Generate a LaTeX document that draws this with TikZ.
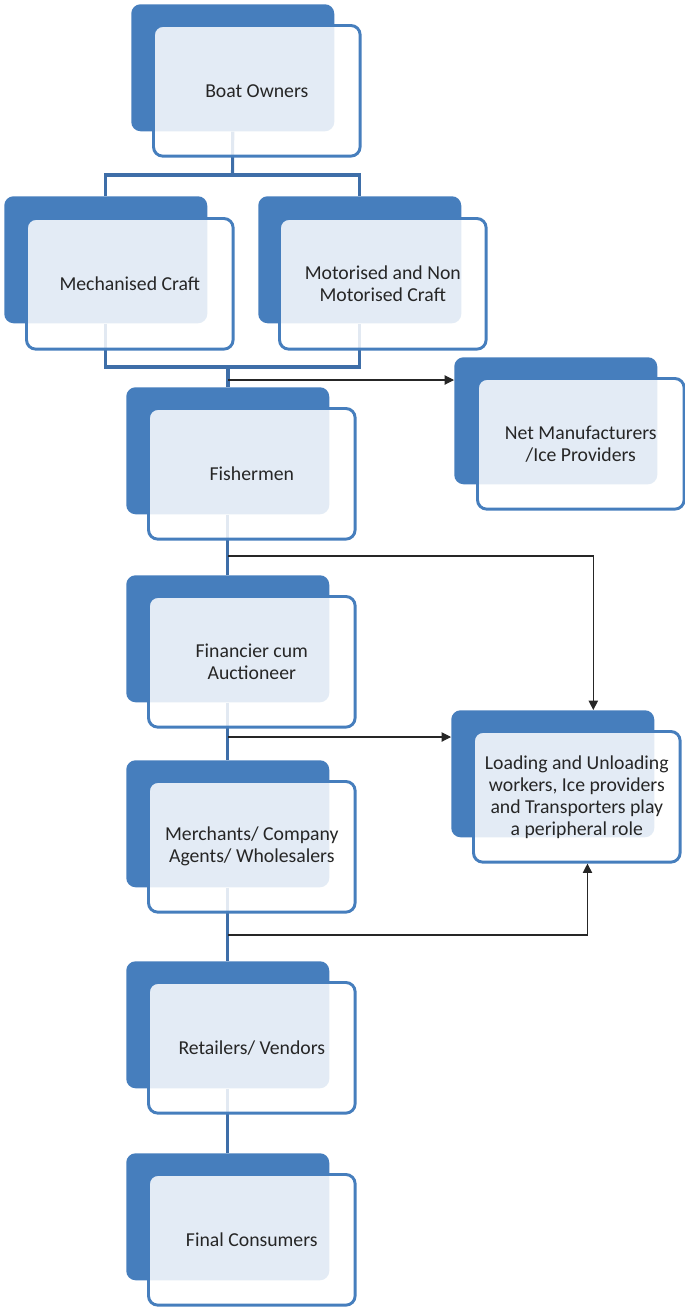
\documentclass[tikz,border=0pt]{standalone}
\usepackage{fontspec}
\setmainfont{Carlito}
\usetikzlibrary{arrows.meta,backgrounds}

\definecolor{boxblue}{RGB}{70,126,189}
\definecolor{lineblue}{RGB}{62,110,168}
\definecolor{inkgray}{RGB}{38,38,38}

\tikzset{
	backbox/.style={fill=boxblue, rounded corners=7pt, minimum width=152.25pt, minimum height=95.25pt, anchor=north west, inner sep=0pt},
	frontbox/.style={draw=boxblue, line width=2.2pt, fill=white, fill opacity=0.85, text opacity=1, rounded corners=7pt, minimum width=155pt, minimum height=98pt, anchor=north west, inner sep=0pt, align=center, text=inkgray, font=\fontsize{14.8}{16.5}\selectfont},
	link/.style={draw=lineblue, line width=2.3pt},
	feed/.style={draw=inkgray, line width=0.8pt, -{Triangle[length=7pt,width=7pt]}},
}

\begin{document}
\begin{tikzpicture}[x=0.75pt,y=-0.75pt]
					% Keep the page as large as the picture
					\useasboundingbox (0,0) rectangle (685,1307);
					
					% Draw the cards (back card, then the front card with its text)
					\node[backbox] (ownersB) at (131,4) {};
					\node[frontbox] (owners) at (152,24) {Boat Owners};
					\node[backbox] (mechB) at (4,196) {};
					\node[frontbox] (mech) at (25,217) {Mechanised Craft};
					\node[backbox] (motorB) at (258,196) {};
					\node[frontbox] (motor) at (278,217) {Motorised and Non\\Motorised Craft};
					\node[backbox] (netB) at (454,357) {};
					\node[frontbox] (net) at (476,377) {Net Manufacturers\\/Ice Providers};
					\node[backbox] (fishB) at (126,387) {};
					\node[frontbox] (fish) at (147,407) {Fishermen};
					\node[backbox] (finB) at (126,575) {};
					\node[frontbox] (fin) at (147,595) {Financier cum\\Auctioneer};
					\node[backbox] (merchB) at (126,760) {};
					\node[frontbox] (merch) at (147,780) {Merchants/ Company\\Agents/ Wholesalers};
					\node[backbox] (retailB) at (126,961) {};
					\node[frontbox] (retail) at (147,981) {Retailers/ Vendors};
					\node[backbox] (finalB) at (126,1153) {};
					\node[frontbox] (final) at (147,1173) {Final Consumers};
					\node[backbox] (loadB) at (451,710) {};
					\node[frontbox] (load) at (472,730) {Loading and Unloading\\workers, Ice providers\\and Transporters play\\a peripheral role};
					
					% Draw the chain behind the cards
					\begin{pgfonlayer}{background}
						\coordinate (split) at (232.5,175);
						\coordinate (merge) at (228,367);
						\draw[link] (ownersB.south) -- (split);
						\draw[link] (mechB.north) |- (split) -| (motorB.north);
						\draw[link] (mechB.south) |- (merge) -| (motorB.south);
						\draw[link] (merge) -- (merge |- fishB.north);
						\draw[link] (fishB.south) -- (finB.north);
						\draw[link] (finB.south) -- (merchB.north);
						\draw[link] (merchB.south) -- (retailB.north);
						\draw[link] (retailB.south) -- (finalB.north);
					\end{pgfonlayer}
					
					% Plot the side arrows
					\coordinate (tapnet) at (228,380);
					\coordinate (tapfish) at (228,556);
					\coordinate (tapfin) at (228,737);
					\coordinate (tapmerch) at (228,935);
					\draw[feed] (tapnet) -- (tapnet -| netB.west);
					\draw[feed] (tapfish) -| ([xshift=30.4pt]loadB.north);
					\draw[feed] (tapfin) -- (tapfin -| loadB.west);
					\draw[feed] (tapmerch) -| ([xshift=8pt]load.south);
				\end{tikzpicture}
\end{document}
